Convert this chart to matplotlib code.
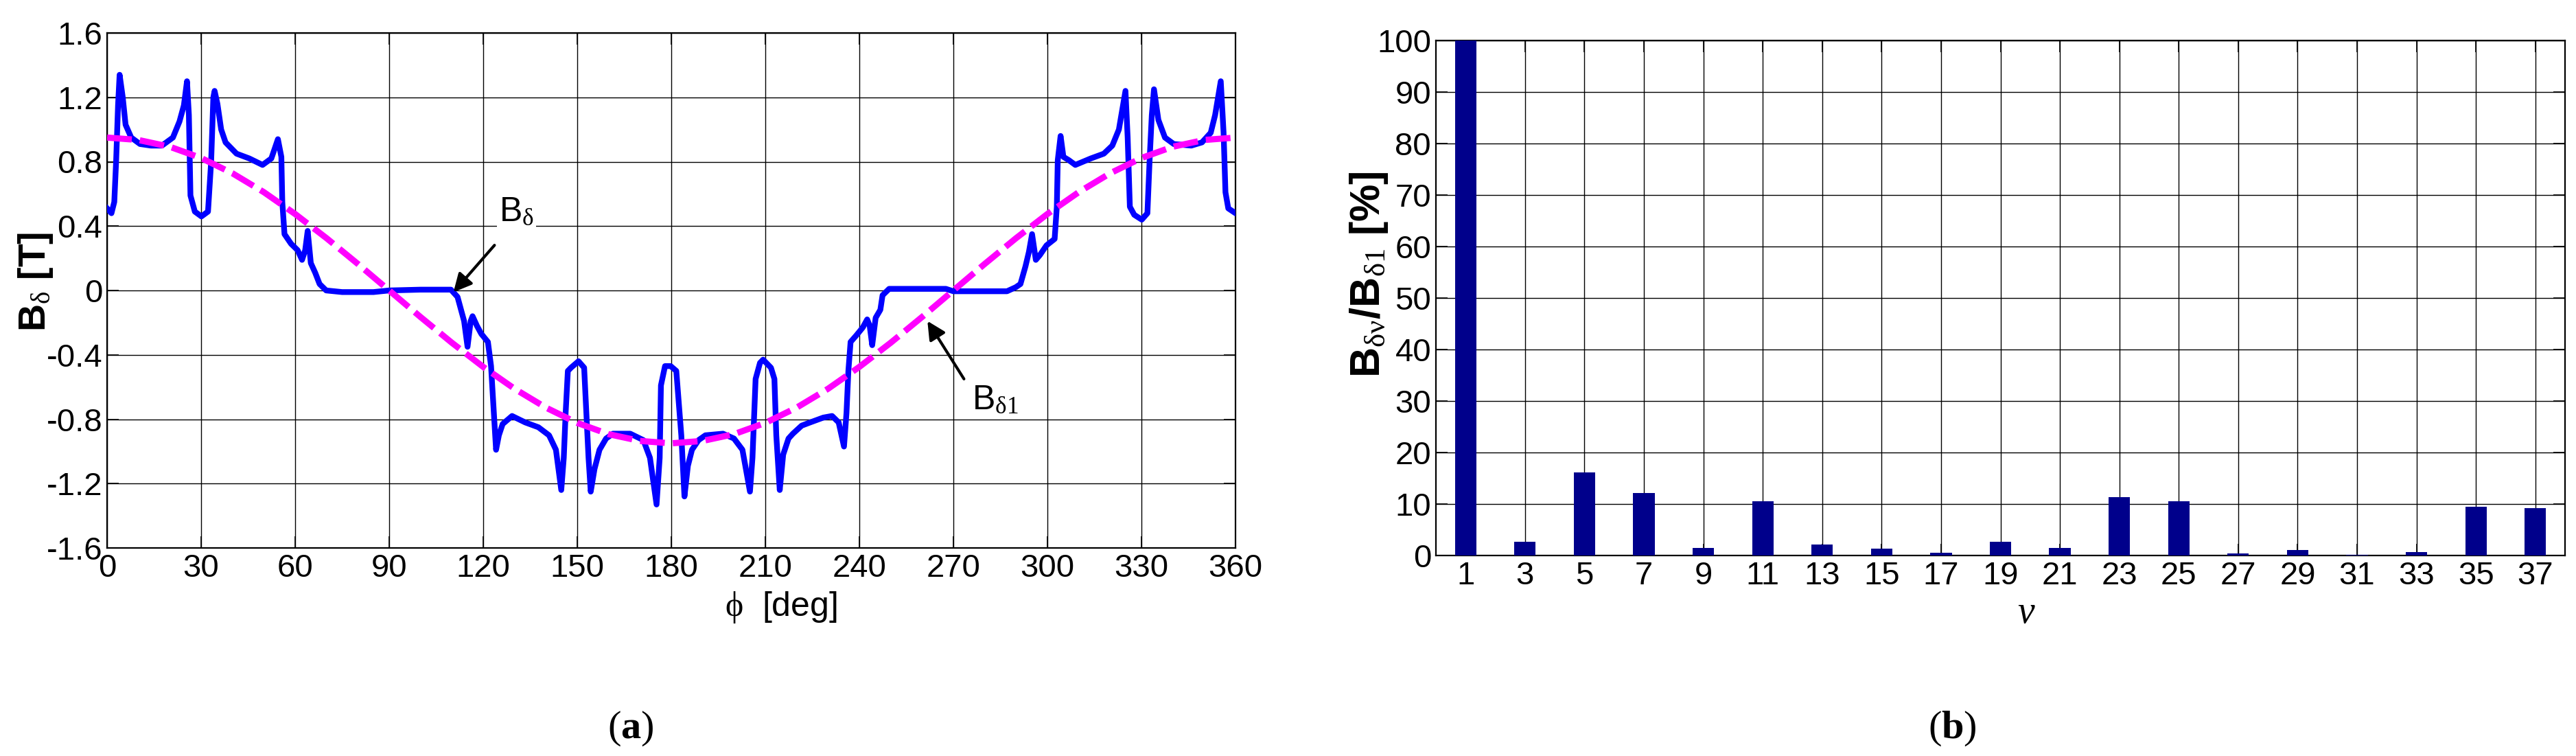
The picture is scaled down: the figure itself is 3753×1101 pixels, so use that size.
import matplotlib
matplotlib.use('Agg')
import matplotlib.pyplot as plt
import numpy as np

# ------------------- DATA -------------------
# (a) air-gap flux density
phi = [0, 1.4, 2.3, 2.9, 3.5, 4.0, 5.0, 5.9, 7.7, 10.5, 14, 17.5, 21, 23.1, 24.5,
       25.5, 26.1, 26.6, 28, 30.1, 32.2, 33.2, 33.9, 34.3, 35.2, 36.4, 37.8, 41.3,
       45.4, 49.6, 52.4, 54.5, 55.6, 55.9, 56.6, 58.7, 60.8, 62.2, 63.2, 64.0, 65.0,
       66.4, 67.8, 69.9, 75, 85, 90, 100, 109.7, 111.8, 112.5, 113.9, 115, 116,
       116.6, 118, 119.4, 121.5, 122.5, 123.2, 124.1, 125, 126.2, 129.2, 133.4,
       137.6, 141, 143.2, 144.9, 145.7, 146.3, 147, 148, 150.4, 152.2, 152.9, 153.6,
       154.3, 155.5, 157.1, 159.2, 161.4, 166.9, 169, 171.1, 173.2, 175.3, 176.3,
       176.7, 178, 179.8, 181.6, 183.2, 184.2, 185.3, 186.6, 188.7, 190.9, 196.5,
       200, 202.7, 205.1, 205.9, 206.9, 208.3, 209.3, 211.8, 212.9, 213.5, 214.6,
       215.7, 217.4, 218.8, 221.6, 224.3, 228.5, 231.3, 233.4, 235.1, 235.9, 236.5,
       237.2, 239, 241.1, 242.5, 243.3, 244.1, 245.2, 246.7, 247.4, 249.5, 260,
       267.6, 270, 280, 287.1, 289.9, 291.4, 293, 294.1, 295.1, 296.3, 297.6, 299.7,
       302.3, 303, 303.3, 304.2, 305.1, 306.8, 308.9, 313.8, 318, 320.7, 322.8,
       324.9, 325.6, 326.3, 327.7, 330.1, 331.9, 332.6, 333.3, 334, 335.4, 337.5,
       340.3, 345.9, 349.3, 352.1, 353.5, 355.3, 356.2, 356.8, 357.7, 360]
b_delta = [0.51, 0.48, 0.55, 0.81, 1.15, 1.34, 1.20, 1.03, 0.95, 0.91, 0.90, 0.90,
           0.95, 1.05, 1.15, 1.30, 1.09, 0.59, 0.49, 0.46, 0.49, 0.80, 1.20, 1.24,
           1.16, 1.00, 0.92, 0.85, 0.82, 0.78, 0.82, 0.94, 0.83, 0.55, 0.35, 0.29,
           0.25, 0.19, 0.25, 0.37, 0.17, 0.11, 0.04, 0.00, -0.01, -0.01, 0.0, 0.005,
           0.005, -0.04, -0.09, -0.19, -0.35, -0.19, -0.16, -0.22, -0.27, -0.32,
           -0.47, -0.70, -0.99, -0.90, -0.83, -0.78, -0.82, -0.85, -0.90, -0.99,
           -1.24, -1.04, -0.76, -0.50, -0.48, -0.44, -0.48, -0.76, -1.04, -1.25,
           -1.11, -0.99, -0.92, -0.89, -0.89, -0.91, -0.93, -1.04, -1.33, -1.04,
           -0.59, -0.47, -0.47, -0.50, -0.90, -1.28, -1.09, -0.99, -0.93, -0.90,
           -0.89, -0.92, -0.99, -1.25, -1.04, -0.55, -0.45, -0.43, -0.48, -0.55,
           -0.90, -1.24, -1.02, -0.92, -0.89, -0.84, -0.82, -0.79, -0.78, -0.82,
           -0.97, -0.76, -0.50, -0.32, -0.28, -0.23, -0.18, -0.22, -0.34, -0.17,
           -0.12, -0.03, 0.01, 0.01, 0.01, -0.005, -0.005, -0.005, 0.02, 0.04, 0.15,
           0.24, 0.35, 0.19, 0.22, 0.28, 0.32, 0.52, 0.81, 0.96, 0.83, 0.81, 0.78,
           0.82, 0.85, 0.90, 1.00, 1.24, 0.95, 0.52, 0.47, 0.44, 0.48, 0.81, 1.09,
           1.25, 1.06, 0.95, 0.91, 0.90, 0.92, 0.98, 1.09, 1.30, 0.98, 0.61, 0.51,
           0.48]

# fundamental, read every 10 deg
phi_1 = list(range(0, 361, 10))
b_delta1 = [0.95, 0.935, 0.893, 0.823, 0.728, 0.611, 0.475, 0.325, 0.165, 0.0,
            -0.165, -0.325, -0.475, -0.611, -0.728, -0.823, -0.893, -0.935, -0.95,
            -0.935, -0.893, -0.823, -0.728, -0.611, -0.475, -0.325, -0.165, 0.0,
            0.165, 0.325, 0.475, 0.611, 0.728, 0.823, 0.893, 0.935, 0.95]

# (b) harmonic content
nu = list(range(1, 38, 2))
ratio = [100, 2.7, 16.2, 12.2, 1.5, 10.5, 2.2, 1.4, 0.6, 2.7, 1.5, 11.4, 10.5,
         0.4, 1.1, 0.15, 0.7, 9.5, 9.25]

# ------------------- STYLE -------------------
plt.rcParams['font.family'] = ['Liberation Sans', 'DejaVu Sans']
plt.rcParams['axes.unicode_minus'] = False
plt.rcParams['mathtext.fontset'] = 'custom'
plt.rcParams['mathtext.rm'] = 'Liberation Serif'
plt.rcParams['mathtext.it'] = 'Liberation Serif:italic'
plt.rcParams['mathtext.bf'] = 'Liberation Serif:bold'
plt.rcParams['mathtext.sf'] = 'Liberation Sans'

W, H = 3753, 1101
fig = plt.figure(figsize=(W / 100, H / 100), dpi=100)


def style_axes(ax):
    ax.grid(True, color='k', lw=1.0)
    ax.set_axisbelow(True)
    ax.tick_params(direction='in', length=12, width=1.2, labelsize=34,
                   top=True, right=True, pad=5)
    ax.tick_params(axis='x', pad=6)
    for s in ax.spines.values():
        s.set_linewidth(1.6)


# ------------------- (a) -------------------
ax1 = fig.add_axes([156 / W, 1 - 798 / H, 1644 / W, 750 / H])
ax1.plot(phi, b_delta, color='#0000ff', lw=6, zorder=3, solid_joinstyle='round')
ax1.plot(phi_1, b_delta1, color='#ff00ff', lw=6.5, dashes=(4, 1.3), zorder=4)
ax1.set_xlim(0, 360)
ax1.set_ylim(-1.6, 1.6)
ax1.set_xticks(range(0, 361, 30))
yt = [-1.6, -1.2, -0.8, -0.4, 0, 0.4, 0.8, 1.2, 1.6]
ax1.set_yticks(yt)
ax1.set_yticklabels(['%g' % v for v in yt])
style_axes(ax1)

ax1.annotate('', xy=(110.1, -0.02), xytext=(124, 0.29),
             arrowprops=dict(arrowstyle='-|>', color='k', lw=3, mutation_scale=40),
             zorder=5)
ax1.text(125, 0.43, r'B$_{\mathrm{\delta}}$', fontsize=36, ha='left', va='baseline',
         bbox=dict(facecolor='white', edgecolor='none', pad=2), zorder=5)
ax1.annotate('', xy=(261.4, -0.18), xytext=(273.7, -0.56),
             arrowprops=dict(arrowstyle='-|>', color='k', lw=3, mutation_scale=40),
             zorder=5)
ax1.text(276, -0.74, r'B$_{\mathrm{\delta 1}}$', fontsize=36, ha='left', va='baseline',
         bbox=dict(facecolor='white', edgecolor='none', pad=2), zorder=5)

fig.text(52 / W, 1 - 410 / H, r'B$_{\mathrm{\delta}}$ [T]', fontsize=40,
         fontweight='bold', rotation=90, ha='center', va='center')
fig.text(1138 / W, 1 - 897 / H, r'$\mathrm{\phi}$  [deg]', fontsize=36,
         ha='center', va='baseline')
fig.text(919 / W, 1 - 1075 / H, r'$\mathrm{(}\mathbf{a}\mathrm{)}$', fontsize=42,
         ha='center', va='baseline')

# ------------------- (b) -------------------
ax2 = fig.add_axes([2092 / W, 1 - 809 / H, 1645 / W, 750 / H])
ax2.bar(nu, ratio, width=0.72, color='#00008b', zorder=3)
ax2.set_xlim(0, 38)
ax2.set_ylim(0, 100)
ax2.set_xticks(nu)
ax2.set_yticks(range(0, 101, 10))
style_axes(ax2)

fig.text(1995 / W, 1 - 400 / H, r'B$_{\mathrm{\delta\nu}}$/B$_{\mathrm{\delta 1}}$ [%]',
         fontsize=44, fontweight='bold', rotation=90, ha='center', va='center')
fig.text(2952 / W, 1 - 907 / H, r'$\mathit{\nu}$', fontsize=40,
         ha='center', va='baseline')
fig.text(2844 / W, 1 - 1075 / H, r'$\mathrm{(}\mathbf{b}\mathrm{)}$', fontsize=42,
         ha='center', va='baseline')

fig.savefig('out.png', dpi=100)
